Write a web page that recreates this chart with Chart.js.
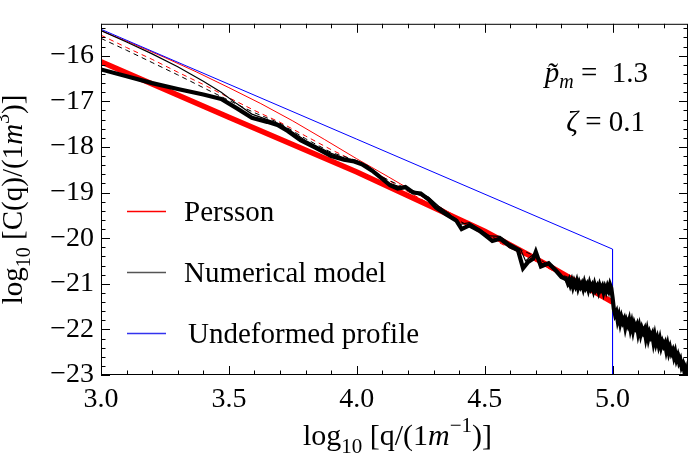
<!DOCTYPE html>
<html>
<head>
<meta charset="utf-8">
<script src="https://cdn.jsdelivr.net/npm/chart.js@4/dist/chart.umd.min.js"></script>
<style>
  html, body { margin: 0; padding: 0; background: #fff; }
  #wrap { width: 692px; height: 464px; }
</style>
</head>
<body>
<div id="wrap"><canvas id="c" width="692" height="464"></canvas></div>
<script>
'use strict';

/* ── axes ── */
const xMajor = [3.0, 3.5, 4.0, 4.5, 5.0];
const yMajor = [-23, -22, -21, -20, -19, -18, -17, -16];

/* ── undeformed profile (blue) ── */
const blueX = [3.0, 5.0, 5.0];
const blueY = [-15.42, -20.24, -23.0];

/* ── Persson, p~m = 1.3 (thick red) ── */
const redThickX = [3.0, 3.5, 4.0, 4.5, 4.75, 5.0];
const redThickY = [-16.13, -17.35, -18.55, -19.85, -20.6, -21.4];

/* ── Persson, other load (thin red) ── */
const redThinX = [3.0, 3.125, 3.25, 3.375, 3.5, 3.625, 3.75, 3.875, 4.0, 4.125, 4.25, 4.375, 4.5, 4.625, 4.75, 4.875, 5.0];
const redThinY = [-15.45, -15.74, -16.04, -16.36, -16.70, -17.05, -17.43, -17.84, -18.26, -18.66, -19.07, -19.48, -19.88, -20.27, -20.65, -21.04, -21.42];

/* ── Persson, other load (dashed red) ── */
const redDashX = [3.0, 3.1, 3.2, 3.3, 3.4, 3.5, 3.6, 3.7, 3.8, 3.9, 4.0, 4.1, 4.2, 4.3, 4.4, 4.5, 4.6, 4.7, 4.8, 4.9, 5.0];
const redDashY = [-15.55, -15.82, -16.08, -16.36, -16.63, -16.92, -17.2, -17.46, -17.76, -18.06, -18.33, -18.65, -18.98, -19.3, -19.62, -19.94, -20.22, -20.5, -20.82, -21.1, -21.4];

/* ── numerical model, p~m = 1.3 (thick black) ── */
const numThickX = [
  3.00, 3.10, 3.20, 3.30, 3.40, 3.47, 3.53, 3.59, 3.65, 3.69, 3.73, 3.78, 3.84, 3.90, 3.95, 3.99,
  4.02, 4.06, 4.10, 4.13, 4.16, 4.19, 4.22, 4.25, 4.28, 4.31, 4.35, 4.39, 4.41, 4.44, 4.48, 4.51,
  4.53, 4.56, 4.60, 4.63, 4.65, 4.67, 4.69, 4.70, 4.72, 4.75, 4.78, 4.80,
  4.820, 4.825, 4.830, 4.835, 4.840, 4.845, 4.850, 4.855, 4.860, 4.865, 4.870, 4.875, 4.880, 4.885,
  4.890, 4.895, 4.900, 4.905, 4.910, 4.915, 4.920, 4.925, 4.930, 4.935, 4.940, 4.945, 4.950, 4.955,
  4.960, 4.965, 4.970, 4.975, 4.980, 4.985, 4.990, 4.995,
  5.000, 5.005, 5.010, 5.015, 5.020, 5.025, 5.030, 5.035, 5.040, 5.045, 5.050, 5.055, 5.060, 5.065,
  5.070, 5.075, 5.080, 5.085, 5.090, 5.095, 5.100, 5.105, 5.110, 5.115, 5.120, 5.125, 5.130, 5.135,
  5.140, 5.145, 5.150, 5.155, 5.160, 5.165, 5.170, 5.175, 5.180, 5.185, 5.190, 5.195, 5.200, 5.205,
  5.210, 5.215, 5.220, 5.225, 5.230, 5.235, 5.240, 5.245, 5.250, 5.255, 5.260, 5.265, 5.270, 5.275,
  5.280, 5.285, 5.290, 5.295, 5.300
];
const numThickY = [
  -16.30, -16.45, -16.60, -16.73, -16.85, -16.95, -17.15, -17.36, -17.45, -17.52, -17.65, -17.85, -18.02, -18.20, -18.28, -18.32,
  -18.38, -18.52, -18.70, -18.84, -18.91, -18.88, -19.00, -19.02, -19.15, -19.33, -19.48, -19.62, -19.80, -19.72, -19.84, -19.97,
  -20.06, -20.01, -20.18, -20.26, -20.66, -20.52, -20.45, -20.30, -20.62, -20.55, -20.72, -20.85,
  -20.90, -20.98, -20.92, -21.02, -20.94, -21.06, -20.96, -21.04, -20.95, -21.08, -20.98, -21.06, -21.00, -21.10,
  -20.98, -21.08, -21.02, -21.12, -21.00, -21.10, -21.04, -21.14, -21.02, -21.12, -21.06, -21.16, -21.04, -21.12,
  -21.06, -21.18, -21.08, -21.16, -21.06, -21.14, -21.02, -21.10,
  -21.30, -21.55, -21.68, -21.62, -21.80, -21.70, -21.86, -21.74, -21.84, -21.78, -21.95, -21.82, -21.90, -21.80,
  -21.98, -21.86, -22.02, -21.88, -21.96, -21.90, -22.08, -21.95, -22.10, -21.98, -22.06, -22.00, -22.18, -22.04,
  -22.20, -22.08, -22.16, -22.10, -22.28, -22.14, -22.30, -22.20, -22.34, -22.22, -22.38, -22.28, -22.36, -22.30,
  -22.46, -22.34, -22.50, -22.40, -22.52, -22.46, -22.60, -22.50, -22.66, -22.58, -22.72, -22.66, -22.82, -22.76,
  -22.90, -22.84, -22.98, -22.95, -23.05
];

/* ── numerical model, other load (thin black) ── */
const numThinX = [
  3.00, 3.10, 3.20, 3.30, 3.40, 3.47, 3.53, 3.59, 3.65, 3.70, 3.75, 3.80, 3.85, 3.90, 3.95, 4.00,
  4.04, 4.08, 4.12, 4.16, 4.20, 4.24, 4.28, 4.32, 4.36, 4.40, 4.44, 4.48, 4.52, 4.56, 4.60, 4.64,
  4.66, 4.68, 4.70, 4.72, 4.76, 4.80, 4.83, 4.86, 4.89, 4.92, 4.95, 4.98, 5.00, 5.01, 5.02, 5.03,
  5.04, 5.05, 5.06, 5.07, 5.08, 5.09, 5.10, 5.11, 5.12, 5.13, 5.14, 5.15, 5.16, 5.17, 5.18, 5.19,
  5.20, 5.21, 5.22, 5.23, 5.24, 5.25, 5.26, 5.27, 5.28, 5.29, 5.30
];
const numThinY = [
  -15.45, -15.70, -15.96, -16.24, -16.56, -16.80, -17.05, -17.28, -17.40, -17.50, -17.68, -17.86, -18.00, -18.14, -18.24, -18.30,
  -18.40, -18.58, -18.78, -18.86, -18.92, -19.00, -19.10, -19.30, -19.46, -19.70, -19.66, -19.80, -19.95, -19.96, -20.12, -20.24,
  -20.50, -20.40, -20.32, -20.55, -20.58, -20.80, -21.06, -20.92, -21.12, -20.98, -21.16, -21.00, -21.25, -21.68, -21.58, -21.82,
  -21.70, -21.90, -21.76, -21.94, -21.84, -22.00, -21.90, -22.08, -21.96, -22.14, -22.02, -22.22, -22.08, -22.30, -22.16, -22.36,
  -22.24, -22.44, -22.30, -22.52, -22.40, -22.62, -22.52, -22.74, -22.70, -22.94, -23.00
];

/* ── numerical model, other load (dashed black) ── */
const numDashX = [3.0, 3.1, 3.2, 3.3, 3.4, 3.5, 3.6, 3.7, 3.8, 3.9, 4.0, 4.1, 4.2, 4.3, 4.4, 4.5, 4.6, 4.7, 4.8, 4.9, 5.0];
const numDashY = [-15.62, -15.88, -16.15, -16.42, -16.70, -16.98, -17.25, -17.48, -17.82, -18.12, -18.30, -18.66, -18.93, -19.22, -19.62, -19.90, -20.15, -20.40, -20.80, -21.02, -21.25];

const legendItems = [
  { label: 'Persson',            color: '#ff0000' },
  { label: 'Numerical model',    color: '#555555' },
  { label: 'Undeformed profile', color: '#3333ee' }
];

const SERIF = '"Liberation Serif", "DejaVu Serif", serif';

function pts(xs, ys) { return xs.map((x, i) => ({ x, y: ys[i] })); }

/* draw a run of text pieces (italic / sub / sup) */
function drawRich(ctx, parts, x, y, align) {
  let total = 0;
  parts.forEach(p => { ctx.font = p.font; total += ctx.measureText(p.t).width; });
  let cx = align === 'center' ? x - total / 2 : align === 'right' ? x - total : x;
  ctx.textAlign = 'left';
  ctx.textBaseline = 'alphabetic';
  parts.forEach(p => {
    ctx.font = p.font;
    ctx.fillText(p.t, cx, y + (p.dy || 0));
    cx += ctx.measureText(p.t).width;
  });
}

const decor = {
  id: 'decor',
  afterDraw(chart) {
    const ctx = chart.ctx;
    const a   = chart.chartArea;
    const xs  = chart.scales.x, ys = chart.scales.y;
    ctx.save();
    ctx.setLineDash([]);
    ctx.strokeStyle = '#000';
    ctx.fillStyle   = '#000';
    ctx.lineWidth   = 1;

    /* frame */
    ctx.strokeRect(a.left + 0.5, a.top + 0.5, a.right - a.left - 1, a.bottom - a.top - 1);

    /* ticks, inward on all sides */
    ctx.beginPath();
    for (let i = 30; i <= 52; i++) {
      const v   = i / 10;
      const len = (i % 5 === 0) ? 9 : 4.5;
      const px  = Math.round(xs.getPixelForValue(v)) + 0.5;
      ctx.moveTo(px, a.bottom); ctx.lineTo(px, a.bottom - len);
      ctx.moveTo(px, a.top);    ctx.lineTo(px, a.top + len);
    }
    for (let i = -115; i <= -77; i++) {
      const v   = i / 5;
      const len = (i % 5 === 0) ? 9 : 4.5;
      const py  = Math.round(ys.getPixelForValue(v)) + 0.5;
      ctx.moveTo(a.left, py);  ctx.lineTo(a.left + len, py);
      ctx.moveTo(a.right, py); ctx.lineTo(a.right - len, py);
    }
    ctx.stroke();

    /* legend */
    legendItems.forEach((item, i) => {
      const y = 211 + i * 61;
      ctx.beginPath();
      ctx.strokeStyle = item.color;
      ctx.lineWidth = 1.3;
      ctx.moveTo(127, y + 0.5); ctx.lineTo(166, y + 0.5);
      ctx.stroke();
      ctx.font = '29px ' + SERIF;
      ctx.fillStyle = '#000';
      ctx.textAlign = 'left'; ctx.textBaseline = 'alphabetic';
      ctx.fillText(item.label, i === 2 ? 188 : 184, y + 10);
    });

    /* annotation */
    const big = '29px ' + SERIF, it29 = 'italic 29px ' + SERIF, it20 = 'italic 20px ' + SERIF;
    drawRich(ctx, [
      { t: 'p\u0303', font: it29 },
      { t: 'm', font: it20, dy: 6 },
      { t: ' =  1.3', font: big }
    ], 648, 82, 'right');
    drawRich(ctx, [
      { t: '\u03B6', font: it29 },
      { t: ' = 0.1', font: big }
    ], 645, 131, 'right');

    /* axis titles */
    const t30 = '30px ' + SERIF, s21 = '21px ' + SERIF, i30 = 'italic 30px ' + SERIF;
    drawRich(ctx, [
      { t: 'log', font: t30 },
      { t: '10', font: s21, dy: 8 },
      { t: ' [q/(1', font: t30 },
      { t: 'm', font: i30 },
      { t: '\u22121', font: s21, dy: -13 },
      { t: ')]', font: t30 }
    ], (a.left + a.right) / 2 + 3, 445, 'center');

    const t29 = '29px ' + SERIF, s20 = '20px ' + SERIF, i29 = 'italic 29px ' + SERIF;
    ctx.translate(22, (a.top + a.bottom) / 2);
    ctx.rotate(-Math.PI / 2);
    drawRich(ctx, [
      { t: 'log', font: t29 },
      { t: '10', font: s20, dy: 8 },
      { t: ' [C(q)/(1', font: t29 },
      { t: 'm', font: i29 },
      { t: '3', font: s20, dy: -13 },
      { t: ')]', font: t29 }
    ], 0, 0, 'center');
    ctx.restore();
  }
};

const line = (data, color, width, dash, order) => ({
  data, borderColor: color, borderWidth: width, borderDash: dash || [],
  pointRadius: 0, tension: 0, fill: false, order
});

new Chart(document.getElementById('c'), {
  type: 'line',
  data: {
    datasets: [
      line(pts(numThickX, numThickY), '#000000', 4.2, null, 1),
      line(pts(numThinX, numThinY),   '#000000', 1.2, null, 2),
      line(pts(numDashX, numDashY),   '#000000', 1,   [5, 4], 3),
      line(pts(blueX, blueY),         '#0000ff', 1,   null, 4),
      line(pts(redThickX, redThickY), '#ff0000', 5.5, null, 5),
      line(pts(redDashX, redDashY),   '#ff0000', 1,   [5, 4], 6),
      line(pts(redThinX, redThinY),   '#ff0000', 1,   null, 7)
    ]
  },
  options: {
    responsive: false,
    animation: false,
    events: [],
    layout: { padding: { top: 13, right: 4, left: 0, bottom: 0 } },
    plugins: { legend: { display: false }, tooltip: { enabled: false } },
    scales: {
      x: {
        type: 'linear', min: 3.0, max: 5.295,
        grid: { display: false, drawTicks: false },
        border: { display: false },
        afterBuildTicks: s => { s.ticks = xMajor.map(v => ({ value: v })); },
        afterFit: s => { s.height = 89; },
        ticks: {
          color: '#000', padding: 8, maxRotation: 0, autoSkip: false,
          font: { family: SERIF, size: 28 },
          callback: v => Number(v).toFixed(1)
        }
      },
      y: {
        type: 'linear', min: -23, max: -15.3,
        grid: { display: false, drawTicks: false },
        border: { display: false },
        afterBuildTicks: s => { s.ticks = yMajor.map(v => ({ value: v })); },
        afterFit: s => { s.width = 101; },
        ticks: {
          color: '#000', padding: 7, autoSkip: false,
          font: { family: SERIF, size: 28 },
          callback: v => String(v).replace('-', '\u2212')
        }
      }
    }
  },
  plugins: [decor]
});
</script>
</body>
</html>
